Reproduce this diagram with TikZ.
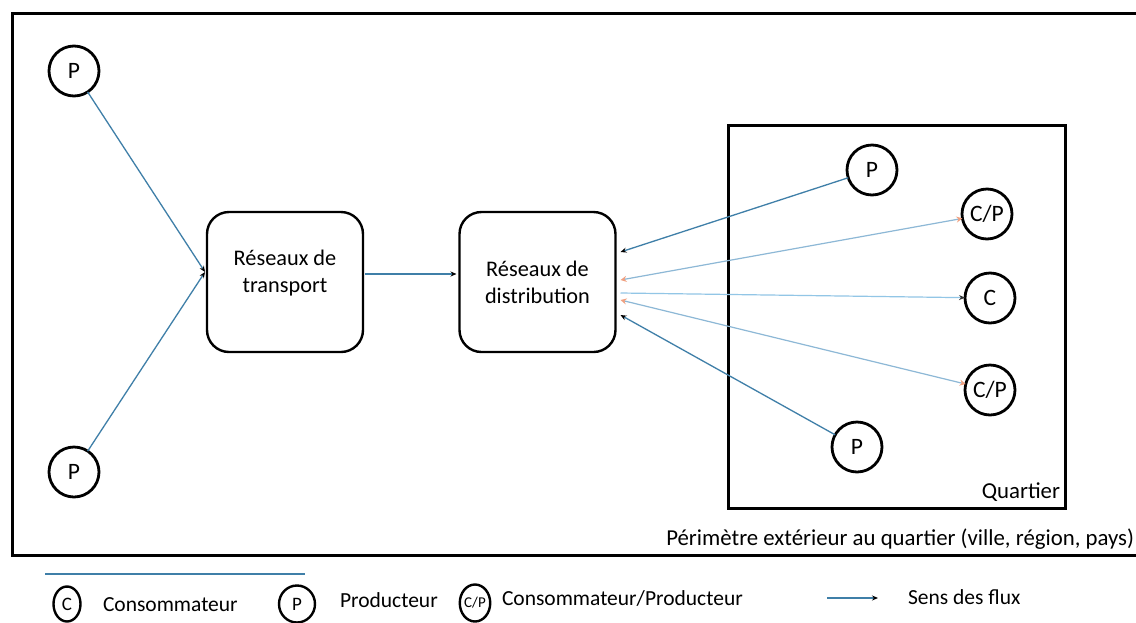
\documentclass[tikz,border=0pt]{standalone}
\usepackage{fontspec}
\setmainfont{Carlito}
\usetikzlibrary{arrows.meta,shapes.geometric}
\definecolor{flowblue}{HTML}{3F7FA8}
\definecolor{lightflow}{HTML}{8DB8D6}
\definecolor{cblue}{HTML}{92C6E6}
\definecolor{flowor}{HTML}{F0A080}
\begin{document}
\begin{tikzpicture}[x=1pt,y=-1pt,
  every node/.style={inner sep=0pt, outer sep=0pt},
  actor/.style={draw=black, line width=2.8pt, circle, minimum size=50pt, font=\fontsize{23.5}{26}\selectfont},
  netbox/.style={draw=black, line width=2.4pt, rounded corners=22pt, minimum width=156pt, minimum height=140pt},
  boxtext/.style={align=center, font=\fontsize{22.3}{27}\selectfont},
  lbl/.style={font=\fontsize{22.8}{27}\selectfont},
  legtext/.style={font=\fontsize{21.5}{26}\selectfont, anchor=west},
  legel/.style={draw=black, line width=2.4pt, ellipse, font=\fontsize{19}{22}\selectfont},
  flow/.style={draw=flowblue, line width=1.3pt, -{Stealth[length=6pt,width=5pt,color=black]}},
  cflow/.style={draw=cblue, line width=1.2pt, -{Stealth[length=6pt,width=5pt,color=black!80]}},
  cpflow/.style={draw=lightflow, line width=1.2pt, {Stealth[length=6pt,width=6pt,color=flowor]}-{Stealth[length=6pt,width=6pt,color=flowor]}},
]
\useasboundingbox (0,0) rectangle (1136,622);
\clip (0,0) rectangle (1136,622);
\fill[white] (0,0) rectangle (1136,622);

% outer perimeter
\draw[line width=3pt] (12,13) rectangle (1160,555);
\node[lbl, anchor=base east] (perim) at (1134,545) {Périmètre extérieur au quartier (ville, région, pays)};

% quartier
\node[draw=black, line width=3pt, minimum width=337pt, minimum height=383pt] (quartier) at (896.5,316.5) {};
\node[lbl, anchor=base east] (qlabel) at (1060,498) {Quartier};

% left producers
\node[actor] (p1) at (74,71) {P};
\node[actor] (p2) at (74,472) {P};

% networks
\node[netbox] (tr) at (285,282) {};
\node[boxtext] (trt) at (285,273) {Réseaux de\\transport};
\node[netbox] (ds) at (537.5,282) {};
\node[boxtext] (dst) at (537.5,282) {Réseaux de\\distribution};

% quartier actors
\node[actor] (qp1) at (872,170) {P};
\node[actor] (qcp1) at (987,214) {C/P};
\node[actor] (qc) at (990,298) {C};
\node[actor] (qcp2) at (990,390) {C/P};
\node[actor] (qp2) at (857,447) {P};

% connection points
\coordinate (tin) at ([shift={(-2,-10)}]tr.west);
\coordinate (d1) at ([shift={(5,-30)}]ds.east);
\coordinate (d2) at ([shift={(5,-2)}]ds.east);
\coordinate (d3) at ([shift={(5,11)}]ds.east);
\coordinate (d4) at ([shift={(5,18)}]ds.east);
\coordinate (d5) at ([shift={(5,33)}]ds.east);
\coordinate (tro) at ([shift={(2,-8)}]tr.east);
\coordinate (dsi) at ([shift={(-3,-8)}]ds.west);

\draw[flow] (p1) -- (tin);
\draw[flow] (p2) -- (tin);
\draw[flow] (tro) -- (dsi);
\draw[flow] (qp1) -- (d1);
\draw[cpflow] (d2) -- (qcp1);
\draw[cflow] (d3) -- (qc);
\draw[cpflow] (d4) -- (qcp2);
\draw[flow] (qp2) -- (d5);

% legend
\coordinate (ls1) at (45,574);
\coordinate (ls2) at (305,574);
\draw[draw=flowblue, line width=2pt] (ls1) -- (ls2);
\node[legel, minimum width=27pt, minimum height=35pt] (lc) at (67,604) {C};
\node[legtext] (lct) at (103,605) {Consommateur};
\node[legel, minimum width=36pt, minimum height=37pt] (lp) at (297,604) {P};
\node[legtext] (lpt) at (340,600) {Producteur};
\node[legel, minimum width=25pt, minimum height=37pt, font=\fontsize{15}{17}\selectfont] (lcp) at (475,603) {C/P};
\node[legtext] (lcpt) at (502,598) {Consommateur/Producteur};
\coordinate (la1) at (827,598);
\coordinate (la2) at (878,598);
\draw[flow] (la1) -- (la2);
\node[legtext] (lft) at (908,597) {Sens des flux};
\end{tikzpicture}
\end{document}
